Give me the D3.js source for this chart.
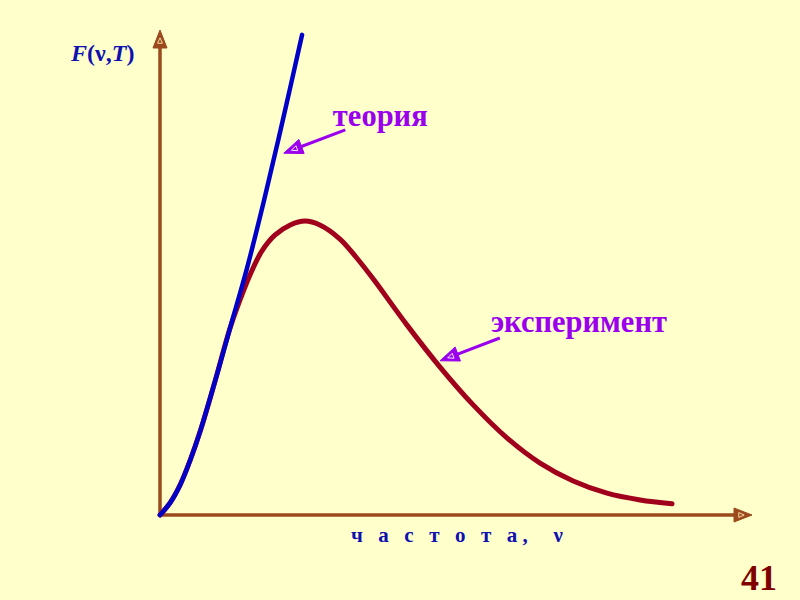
<!DOCTYPE html>
<html>
  <head>
    <meta charset="utf-8">
    <title>F(ν,T)</title>
    <script src="https://d3js.org/d3.v7.min.js"></script>
    <style>
      body { margin: 0; background: #FFFFCC; }
      svg { display: block; }
      text { font-family: "Liberation Serif", "Times New Roman", serif; font-weight: bold; }
    </style>
  </head>
  <body>
    <svg id="chart" width="800" height="600"></svg>
    <script>
      // frequency (arbitrary units) and curve values
      const theoryNu = [0, 0.17, 0.34, 0.51, 0.68, 0.93, 1.18, 1.47, 1.76, 2.08, 2.40];
      const theoryF  = [0, 0.25, 0.62, 1.13, 1.73, 2.76, 3.84, 5.09, 6.50, 8.17, 9.90];
      const expNu = [0, 0.17, 0.34, 0.51, 0.68, 0.93, 1.18, 1.35, 1.52, 1.72, 1.94, 2.20, 2.45,
                     2.70, 3.04, 3.31, 3.60, 4.17, 4.73, 5.29, 5.86, 6.42, 6.98, 7.55, 8.11, 8.65];
      const expF  = [0, 0.25, 0.62, 1.13, 1.73, 2.76, 3.84, 4.43, 4.95, 5.44, 5.77, 5.98, 6.06,
                     5.98, 5.69, 5.32, 4.87, 3.92, 3.05, 2.27, 1.59, 1.07, 0.70, 0.45, 0.31, 0.23];
      // labels: [text, arrow tip nu, arrow tip F, tail nu, tail F, text nu, text F]
      const labels = [
        ["теория", 2.09, 7.46, 3.13, 7.94, 2.92, 8.03],
        ["эксперимент", 4.73, 3.18, 5.74, 3.65, 5.59, 3.78]
      ];
      const xLabel = "ч а с т о т а,  ν";
      const pageNumber = "41";

      const svg = d3.select("#chart");
      const x = d3.scaleLinear().domain([0, 10]).range([160, 752]);
      const y = d3.scaleLinear().domain([0, 10]).range([515, 30]);
      const axisColour = "#9A4A1C";

      // arrow head: filled triangle with a small light outline inside
      function arrowHead(tx, ty, dx, dy, len, half, fill, inner) {
        let px = -dy, py = dx;
        let bx = tx - dx * len, by = ty - dy * len;
        svg.append("path")
          .attr("d", "M" + tx + "," + ty +
            "L" + (bx + px * half) + "," + (by + py * half) +
            "L" + (bx - px * half) + "," + (by - py * half) + "Z")
          .attr("fill", fill)
          .attr("stroke", fill)
          .attr("stroke-width", 1)
          .attr("stroke-linejoin", "round");
        let cx = tx - dx * len * 0.6, cy = ty - dy * len * 0.6;
        let s = half * 0.35;
        svg.append("path")
          .attr("d", "M" + (cx + dx * s * 1.2) + "," + (cy + dy * s * 1.2) +
            "L" + (cx - dx * s + px * s) + "," + (cy - dy * s + py * s) +
            "L" + (cx - dx * s - px * s) + "," + (cy - dy * s - py * s) + "Z")
          .attr("fill", "none")
          .attr("stroke", inner)
          .attr("stroke-width", 1);
      }

      // axes
      svg.append("line")
        .attr("x1", x(0)).attr("y1", y(0))
        .attr("x2", x(10) - 14).attr("y2", y(0))
        .attr("stroke", axisColour).attr("stroke-width", 3.5);
      svg.append("line")
        .attr("x1", x(0)).attr("y1", y(0))
        .attr("x2", x(0)).attr("y2", y(10) + 14)
        .attr("stroke", axisColour).attr("stroke-width", 3.5);
      arrowHead(x(10), y(0), 1, 0, 18, 7, axisColour, "#F4D9A0");
      arrowHead(x(0), y(10), 0, -1, 18, 7, axisColour, "#F4D9A0");

      // curves
      const line = d3.line().curve(d3.curveCatmullRom.alpha(0.5));
      svg.append("path")
        .attr("d", line(expNu.map((d, i) => [x(d), y(expF[i])])))
        .attr("fill", "none")
        .attr("stroke", "#A0001C")
        .attr("stroke-width", 5)
        .attr("stroke-linecap", "round");
      svg.append("path")
        .attr("d", line(theoryNu.map((d, i) => [x(d), y(theoryF[i])])))
        .attr("fill", "none")
        .attr("stroke", "#0000C8")
        .attr("stroke-width", 4.5)
        .attr("stroke-linecap", "round");

      // annotations
      const purple = "#9A00EE";
      labels.forEach(function(l) {
        let tx = x(l[1]), ty = y(l[2]), ex = x(l[3]), ey = y(l[4]);
        let len = Math.hypot(tx - ex, ty - ey);
        let dx = (tx - ex) / len, dy = (ty - ey) / len;
        svg.append("line")
          .attr("x1", ex).attr("y1", ey)
          .attr("x2", tx - dx * 14).attr("y2", ty - dy * 14)
          .attr("stroke", purple).attr("stroke-width", 3);
        arrowHead(tx, ty, dx, dy, 19, 7.5, purple, "#F8E8FF");
        svg.append("text")
          .attr("x", x(l[5])).attr("y", y(l[6]))
          .attr("fill", purple)
          .style("font-size", "30.5px")
          .text(l[0]);
      });

      // axis titles
      const yTitle = svg.append("text")
        .attr("x", 71).attr("y", 61)
        .attr("fill", "#1010B0")
        .style("font-size", "24px");
      yTitle.append("tspan").style("font-style", "italic").text("F");
      yTitle.append("tspan").text("(ν,");
      yTitle.append("tspan").style("font-style", "italic").text("T");
      yTitle.append("tspan").text(")");

      svg.append("text")
        .attr("x", 351).attr("y", 542)
        .attr("fill", "#1010B0")
        .attr("textLength", 212)
        .attr("lengthAdjust", "spacing")
        .style("white-space", "pre")
        .style("font-size", "21px")
        .text(xLabel);

      svg.append("text")
        .attr("x", 741).attr("y", 590)
        .attr("fill", "#800000")
        .style("font-size", "36px")
        .text(pageNumber);
    </script>
  </body>
</html>
